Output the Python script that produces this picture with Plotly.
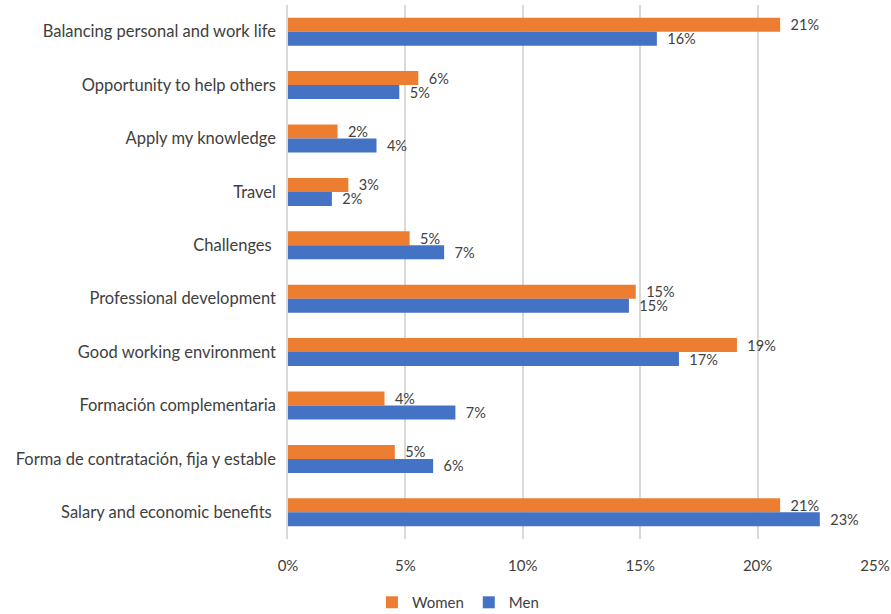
import plotly.graph_objects as go

categories = [
    "Balancing personal and work life",
    "Opportunity to help others",
    "Apply my knowledge",
    "Travel",
    "Challenges ",
    "Professional development",
    "Good working environment",
    "Formación complementaria",
    "Forma de contratación, fija y estable",
    "Salary and economic benefits ",
]

women = [0.2096, 0.0555, 0.0211, 0.0257, 0.0518, 0.1481, 0.1912, 0.0411, 0.0455, 0.2096]
men = [0.1571, 0.0474, 0.0377, 0.0187, 0.0665, 0.1452, 0.1665, 0.0713, 0.0618, 0.2265]

x_ticks = [0, 0.05, 0.10, 0.15, 0.20, 0.25]
x_tick_labels = ["0%", "5%", "10%", "15%", "20%", "25%"]

FONT = "Lato, 'Open Sans', sans-serif"
TEXT_COLOR = "#404040"

fig = go.Figure()
for name, vals, color in [("Women", women, "#ED7D31"), ("Men", men, "#4472C4")]:
    fig.add_trace(go.Bar(
        name=name,
        y=categories,
        x=vals,
        orientation="h",
        marker=dict(color=color, line=dict(width=0)),
        texttemplate="\u00a0\u00a0%{x:.0%}",
        textposition="outside",
        constraintext="none",
        textfont=dict(family=FONT, size=14.5, color=TEXT_COLOR),
        cliponaxis=False,
    ))

fig.update_layout(
    width=891,
    height=614,
    margin=dict(l=288, r=16, t=5, b=75, autoexpand=False),
    paper_bgcolor="white",
    plot_bgcolor="white",
    barmode="group",
    bargap=0.475,
    bargroupgap=0,
    font=dict(family=FONT, size=15, color=TEXT_COLOR),
    showlegend=True,
    legend=dict(
        orientation="h",
        x=0.143,
        y=-0.119,
        xanchor="left",
        yanchor="middle",
        font=dict(family=FONT, size=15, color=TEXT_COLOR),
        itemwidth=30,
        tracegroupgap=0,
    ),
    xaxis=dict(
        range=[0, 0.25],
        tickvals=x_ticks,
        ticktext=x_tick_labels,
        showgrid=True,
        gridcolor="#D9D9D9",
        gridwidth=1.5,
        zeroline=False,
        showline=False,
        ticks="",
        tickfont=dict(family=FONT, size=15, color=TEXT_COLOR),
        ticklabelstandoff=16,
    ),
    yaxis=dict(
        autorange="reversed",
        showline=True,
        linecolor="#D9D9D9",
        linewidth=1.5,
        showgrid=False,
        ticks="",
        ticklabelstandoff=7,
        tickfont=dict(family=FONT, size=16.5, color=TEXT_COLOR),
    ),
)

fig.write_html("out.html")
